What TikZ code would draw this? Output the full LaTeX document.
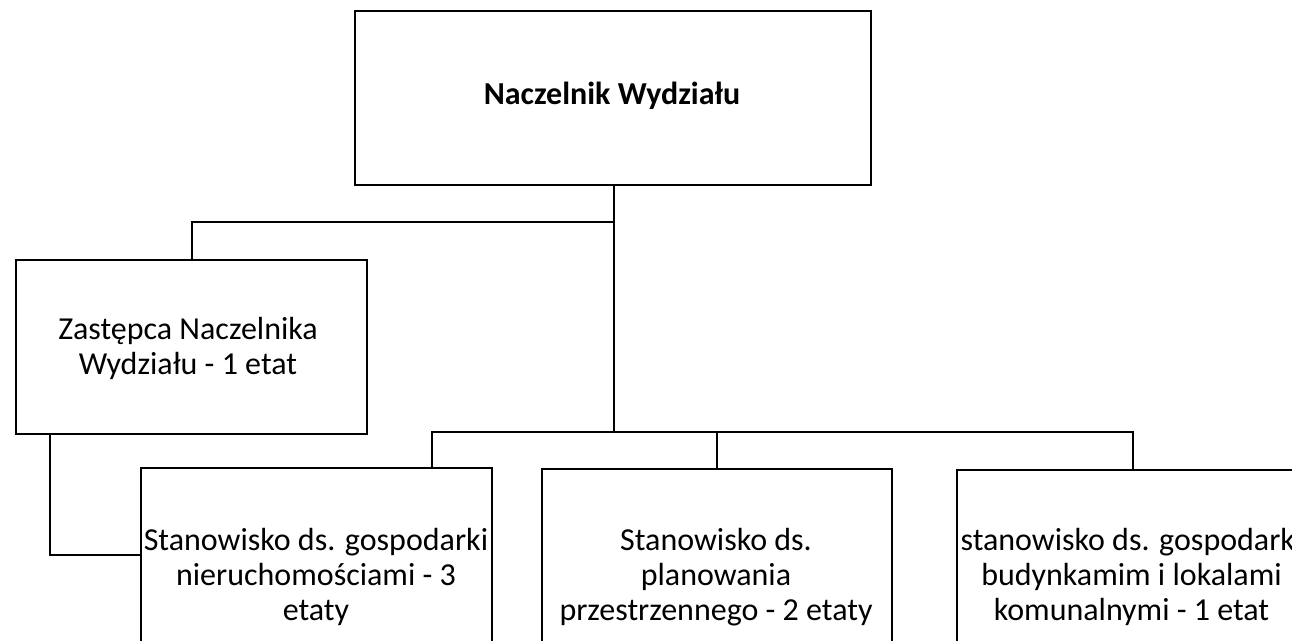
\documentclass[tikz,border=0pt]{standalone}
\usepackage{fontspec}
\setmainfont{Carlito}
\begin{document}
\begin{tikzpicture}[x=1pt,y=-1pt,
  box/.style={draw=black,line width=2.4pt,fill=white,inner sep=0pt,anchor=north west},
  txt/.style={align=center,font=\fontsize{32}{35}\selectfont,inner sep=0pt},
  conn/.style={draw=black,line width=2.4pt},
  thin/.style={draw=black,line width=1.5pt}]
\useasboundingbox (0,0) rectangle (1292,640);
% boxes
\node[box,minimum width=516pt,minimum height=174pt] (top) at (354,10) {};
\node[txt,font=\fontsize{32}{35}\selectfont\bfseries] (topt) at (612,96) {Naczelnik Wydziału};
\node[box,minimum width=351pt,minimum height=174pt] (zast) at (15,259) {};
\node[txt] (zastt) at (188,348) {Zastępca Naczelnika\\Wydziału - 1 etat};
\node[box,minimum width=351pt,minimum height=174pt] (b1) at (140,467) {};
\node[txt] (b1t) at (316,577) {Stanowisko ds. gospodarki\\nieruchomościami - 3\\etaty};
\node[box,minimum width=350pt,minimum height=174pt] (b2) at (541,468) {};
\node[txt] (b2t) at (716,577) {Stanowisko ds.\\planowania\\przestrzennego - 2 etaty};
\node[box,minimum width=351pt,minimum height=174pt] (b3) at (956,469) {};
\node[txt] (b3t) at (1131.5,577) {stanowisko ds. gospodarki\\budynkamim i lokalami\\komunalnymi - 1 etat};
% junctions
\coordinate (j1) at (614,222);
\coordinate (j2) at (614,432);
\coordinate (d1) at (432,467);
\coordinate (z1) at (50,433);
% connectors
\draw[conn] (top.south -| j1) -- (j2);
\draw[conn] (j1) -| (zast.north);
\draw[thin] (j2) -| (d1);
\draw[conn] (j2) -| (b3.north);
\draw[conn] (b2.north) -- (b2.north |- j2);
\draw[conn] (z1) |- (b1.west);
\end{tikzpicture}
\end{document}
